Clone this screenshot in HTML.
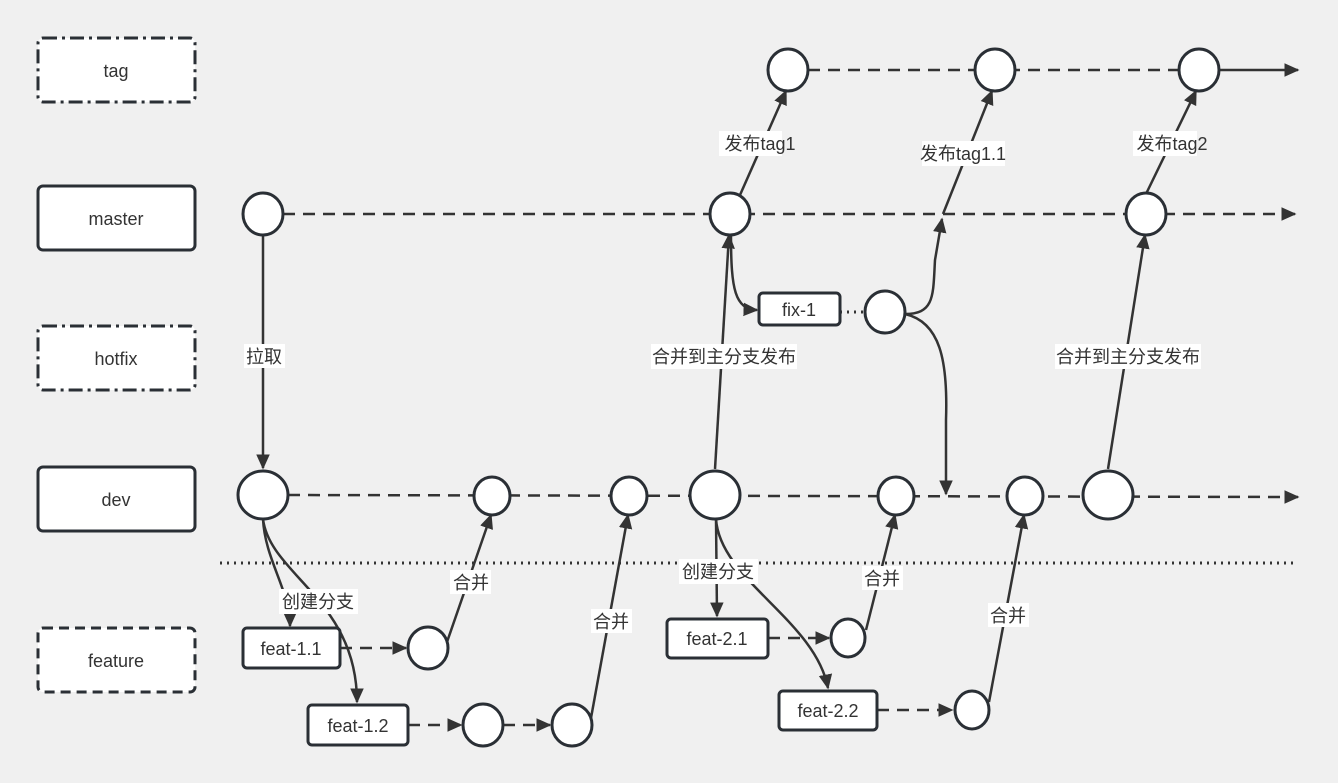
<!DOCTYPE html>
<html><head><meta charset="utf-8">
<style>
html,body{margin:0;padding:0;background:#f0f0f0;}
svg{display:block;}
text{font-family:"Liberation Sans","Noto Sans CJK SC",sans-serif;font-size:18px;fill:#333;}
</style></head><body>
<svg width="1338" height="783" viewBox="0 0 1338 783" xmlns="http://www.w3.org/2000/svg">
<defs>
<marker id="a" viewBox="0 0 10 10" refX="9" refY="5" markerWidth="6" markerHeight="6" orient="auto" markerUnits="strokeWidth">
<path d="M0,0.5 L10,5 L0,9.5 z" fill="#333"/>
</marker>
</defs>
<rect width="1338" height="783" fill="#f0f0f0"/>
<g fill="#fff" stroke="#2a2f35" stroke-width="3">
<rect x="38" y="38" width="157" height="64" rx="5" stroke-dasharray="14,5,3,5"/>
<rect x="38" y="186" width="157" height="64" rx="5"/>
<rect x="38" y="326" width="157" height="64" rx="5" stroke-dasharray="14,5,3,5"/>
<rect x="38" y="467" width="157" height="64" rx="5"/>
<rect x="38" y="628" width="157" height="64" rx="5" stroke-dasharray="10,6"/>
</g>
<g text-anchor="middle">
<text x="116" y="77">tag</text>
<text x="116" y="225">master</text>
<text x="116" y="365">hotfix</text>
<text x="116" y="506">dev</text>
<text x="116" y="667">feature</text>
</g>
<line x1="220" y1="563" x2="1298" y2="563" stroke="#333" stroke-width="3" stroke-dasharray="2,5"/>
<g stroke="#333" stroke-width="2.5" fill="none">
<line x1="808" y1="70" x2="1180" y2="70" stroke-dasharray="12,8"/>
<line x1="1219" y1="70" x2="1298" y2="70" marker-end="url(#a)"/>
<line x1="283" y1="214" x2="1295" y2="214" stroke-dasharray="12,8" marker-end="url(#a)"/>
<line x1="288" y1="495" x2="1298" y2="497" stroke-dasharray="12,8" marker-end="url(#a)"/>
<line x1="840" y1="312" x2="865" y2="312" stroke-dasharray="2,5" stroke-width="3"/>
<line x1="263" y1="234" x2="263" y2="468" marker-end="url(#a)"/>
<line x1="740" y1="195" x2="786" y2="91" marker-end="url(#a)"/>
<line x1="943" y1="214" x2="992" y2="91" marker-end="url(#a)"/>
<line x1="1146" y1="194" x2="1196" y2="91" marker-end="url(#a)"/>
<line x1="715" y1="469" x2="729" y2="235" marker-end="url(#a)"/>
<line x1="1108" y1="469" x2="1145" y2="235" marker-end="url(#a)"/>
<path d="M731,236 C731,290 735,309 757,310" marker-end="url(#a)"/>
<path d="M905,314 C935,314 933,295 935,260 L942,219" marker-end="url(#a)"/>
<path d="M905,314 C940,322 948,360 946,420 L946,494" marker-end="url(#a)"/>
<path d="M263,519 C265,560 290,590 290,626" marker-end="url(#a)"/>
<path d="M263,519 C270,575 357,600 357,702" marker-end="url(#a)"/>
<line x1="340" y1="648" x2="406" y2="648" stroke-dasharray="12,8" marker-end="url(#a)"/>
<line x1="447" y1="642" x2="491" y2="515" marker-end="url(#a)"/>
<line x1="408" y1="725" x2="461" y2="725" stroke-dasharray="12,8" marker-end="url(#a)"/>
<line x1="503" y1="725" x2="550" y2="725" stroke-dasharray="12,8" marker-end="url(#a)"/>
<line x1="591" y1="718" x2="628" y2="515" marker-end="url(#a)"/>
<line x1="716" y1="519" x2="717" y2="616" marker-end="url(#a)"/>
<path d="M716,519 C720,580 815,620 828,688" marker-end="url(#a)"/>
<line x1="768" y1="638" x2="829" y2="638" stroke-dasharray="12,8" marker-end="url(#a)"/>
<line x1="866" y1="630" x2="895" y2="515" marker-end="url(#a)"/>
<line x1="877" y1="710" x2="952" y2="710" stroke-dasharray="12,8" marker-end="url(#a)"/>
<line x1="989" y1="702" x2="1024" y2="515" marker-end="url(#a)"/>
</g>
<g fill="#fff" stroke="#2a2f35" stroke-width="3">
<ellipse cx="788" cy="70" rx="20" ry="21"/>
<ellipse cx="995" cy="70" rx="20" ry="21"/>
<ellipse cx="1199" cy="70" rx="20" ry="21"/>
<ellipse cx="263" cy="214" rx="20" ry="21"/>
<ellipse cx="730" cy="214" rx="20" ry="21"/>
<ellipse cx="1146" cy="214" rx="20" ry="21"/>
<ellipse cx="885" cy="312" rx="20" ry="21"/>
<ellipse cx="263" cy="495" rx="25" ry="24"/>
<ellipse cx="492" cy="496" rx="18" ry="19"/>
<ellipse cx="629" cy="496" rx="18" ry="19"/>
<ellipse cx="715" cy="495" rx="25" ry="24"/>
<ellipse cx="896" cy="496" rx="18" ry="19"/>
<ellipse cx="1025" cy="496" rx="18" ry="19"/>
<ellipse cx="1108" cy="495" rx="25" ry="24"/>
<ellipse cx="428" cy="648" rx="20" ry="21"/>
<ellipse cx="483" cy="725" rx="20" ry="21"/>
<ellipse cx="572" cy="725" rx="20" ry="21"/>
<ellipse cx="848" cy="638" rx="17" ry="19"/>
<ellipse cx="972" cy="710" rx="17" ry="19"/>
<rect x="759" y="293" width="81" height="32" rx="4"/>
<rect x="243" y="628" width="97" height="40" rx="4"/>
<rect x="308" y="705" width="100" height="40" rx="4"/>
<rect x="667" y="619" width="101" height="39" rx="4"/>
<rect x="779" y="691" width="98" height="39" rx="4"/>
</g>
<g text-anchor="middle">
<text x="799" y="316">fix-1</text>
<text x="291" y="655">feat-1.1</text>
<text x="358" y="732">feat-1.2</text>
<text x="717" y="645">feat-2.1</text>
<text x="828" y="717">feat-2.2</text>
</g>
<g fill="#fff">
<rect x="244" y="344" width="41" height="24"/>
<rect x="719" y="131" width="63" height="25"/>
<rect x="922" y="141" width="83" height="25"/>
<rect x="1133" y="131" width="64" height="25"/>
<rect x="651" y="344" width="146" height="25"/>
<rect x="1055" y="344" width="146" height="25"/>
<rect x="279" y="589" width="79" height="25"/>
<rect x="679" y="559" width="79" height="25"/>
<rect x="450" y="570" width="41" height="24"/>
<rect x="591" y="609" width="41" height="24"/>
<rect x="862" y="566" width="41" height="24"/>
<rect x="988" y="603" width="41" height="24"/>
</g>
<g text-anchor="middle">
<text x="264" y="363">拉取</text>
<text x="760" y="150">发布tag1</text>
<text x="963" y="160">发布tag1.1</text>
<text x="1172" y="150">发布tag2</text>
<text x="724" y="363">合并到主分支发布</text>
<text x="1128" y="363">合并到主分支发布</text>
<text x="318" y="608">创建分支</text>
<text x="718" y="578">创建分支</text>
<text x="471" y="589">合并</text>
<text x="611" y="628">合并</text>
<text x="882" y="585">合并</text>
<text x="1008" y="622">合并</text>
</g>
</svg>
</body></html>
